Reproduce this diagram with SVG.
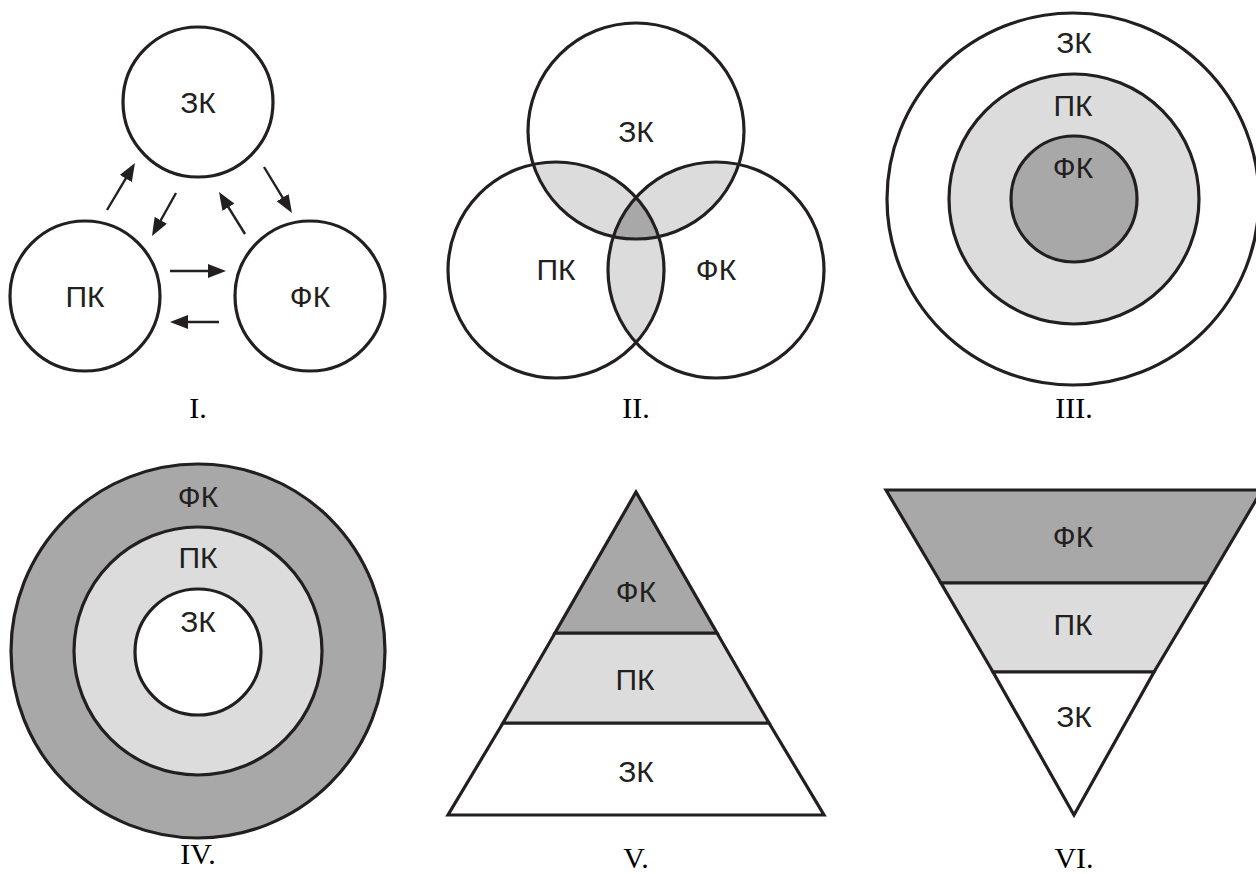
<svg xmlns="http://www.w3.org/2000/svg" width="1256" height="874" viewBox="0 0 1256 874">
  <style>
    .ln { fill: none; stroke: #231f20; stroke-width: 3.2; }
    .wh { fill: #ffffff; stroke: #231f20; stroke-width: 3.2; }
    .lt { fill: #dcdcdc; stroke: #231f20; stroke-width: 3.2; }
    .dk { fill: #a8a8a8; stroke: #231f20; stroke-width: 3.2; }
    .lbl { font-family: "Liberation Sans", Arial, sans-serif; font-size: 30px; fill: #231f20; text-anchor: middle; }
    .num { font-family: "Liberation Serif", "Times New Roman", serif; font-size: 30px; fill: #000000; text-anchor: middle; }
    .arr { stroke: #231f20; stroke-width: 2.4; fill: none; marker-end: url(#head); }
  </style>
  <defs>
    <marker id="head" viewBox="0 0 18 14" refX="10" refY="7" markerWidth="18" markerHeight="14" markerUnits="userSpaceOnUse" orient="auto">
      <path d="M0,0 L18,7 L0,14 z" fill="#231f20"/>
    </marker>
    <clipPath id="cZK"><circle cx="636" cy="131" r="108"/></clipPath>
    <clipPath id="cPK"><circle cx="556" cy="270" r="108"/></clipPath>
  </defs>
  <rect width="1256" height="874" fill="#ffffff"/>

  <!-- I. three linked circles -->
  <g id="panel-1">
    <g id="p1-zk"><circle class="wh" cx="198" cy="102" r="75"/><text class="lbl" x="198" y="113">ЗК</text></g>
    <g id="p1-pk"><circle class="wh" cx="85" cy="296" r="75"/><text class="lbl" x="85" y="307">ПК</text></g>
    <g id="p1-fk"><circle class="wh" cx="310" cy="296" r="75"/><text class="lbl" x="310" y="307">ФК</text></g>
    <g id="p1-links">
      <line class="arr" x1="107" y1="210" x2="130.9" y2="169.9"/>
      <line class="arr" x1="176" y1="193" x2="155.9" y2="229.0"/>
      <line class="arr" x1="245" y1="234" x2="223.2" y2="198.8"/>
      <line class="arr" x1="264" y1="167" x2="287.8" y2="206.2"/>
      <line class="arr" x1="170" y1="271" x2="218" y2="271"/>
      <line class="arr" x1="219" y1="322" x2="178" y2="322"/>
    </g>
    <text class="num" x="198" y="418">I.</text>
  </g>

  <!-- II. overlapping circles -->
  <g id="panel-2">
    <g id="p2-overlaps">
      <g clip-path="url(#cZK)">
        <circle cx="556" cy="270" r="108" fill="#dcdcdc"/>
        <circle cx="716" cy="270" r="108" fill="#dcdcdc"/>
      </g>
      <g clip-path="url(#cPK)">
        <circle cx="716" cy="270" r="108" fill="#dcdcdc"/>
      </g>
      <g clip-path="url(#cZK)"><g clip-path="url(#cPK)">
        <circle cx="716" cy="270" r="108" fill="#a8a8a8"/>
      </g></g>
    </g>
    <g id="p2-zk"><circle class="ln" cx="636" cy="131" r="108"/><text class="lbl" x="636" y="142">ЗК</text></g>
    <g id="p2-pk"><circle class="ln" cx="556" cy="270" r="108"/><text class="lbl" x="556" y="280">ПК</text></g>
    <g id="p2-fk"><circle class="ln" cx="716" cy="270" r="108"/><text class="lbl" x="716" y="280">ФК</text></g>
    <text class="num" x="636" y="418">II.</text>
  </g>

  <!-- III. nested rings, ЗК outside -->
  <g id="panel-3">
    <g id="p3-zk"><circle class="wh" cx="1073" cy="199" r="186"/><text class="lbl" x="1074" y="53">ЗК</text></g>
    <g id="p3-pk"><circle class="lt" cx="1074" cy="199" r="125"/><text class="lbl" x="1073" y="116">ПК</text></g>
    <g id="p3-fk"><circle class="dk" cx="1074" cy="199" r="63"/><text class="lbl" x="1073" y="178">ФК</text></g>
    <text class="num" x="1074" y="418">III.</text>
  </g>

  <!-- IV. nested rings, ФК outside -->
  <g id="panel-4">
    <g id="p4-fk"><circle class="dk" cx="198" cy="651" r="187"/><text class="lbl" x="198" y="507">ФК</text></g>
    <g id="p4-pk"><circle class="lt" cx="198" cy="651" r="124"/><text class="lbl" x="198" y="568">ПК</text></g>
    <g id="p4-zk"><circle class="wh" cx="198" cy="652" r="63"/><text class="lbl" x="198" y="632">ЗК</text></g>
    <text class="num" x="198" y="864">IV.</text>
  </g>

  <!-- V. pyramid -->
  <g id="panel-5">
    <g id="p5-zk"><polygon class="wh" points="503,723 769,723 824,815 448,815"/><text class="lbl" x="636" y="782">ЗК</text></g>
    <g id="p5-pk"><polygon class="lt" points="555,633 717,633 769,723 503,723"/><text class="lbl" x="635" y="690">ПК</text></g>
    <g id="p5-fk"><polygon class="dk" points="636,492 717,633 555,633"/><text class="lbl" x="636" y="602">ФК</text></g>
    <text class="num" x="636" y="868">V.</text>
  </g>

  <!-- VI. inverted pyramid -->
  <g id="panel-6">
    <g id="p6-fk"><polygon class="dk" points="886,490 1262,490 1207,583 941,583"/><text class="lbl" x="1073" y="547">ФК</text></g>
    <g id="p6-pk"><polygon class="lt" points="941,583 1207,583 1154,672 993,672"/><text class="lbl" x="1073" y="635">ПК</text></g>
    <g id="p6-zk"><polygon class="wh" points="993,672 1154,672 1074,815"/><text class="lbl" x="1074" y="727">ЗК</text></g>
    <text class="num" x="1074" y="868">VI.</text>
  </g>
</svg>
